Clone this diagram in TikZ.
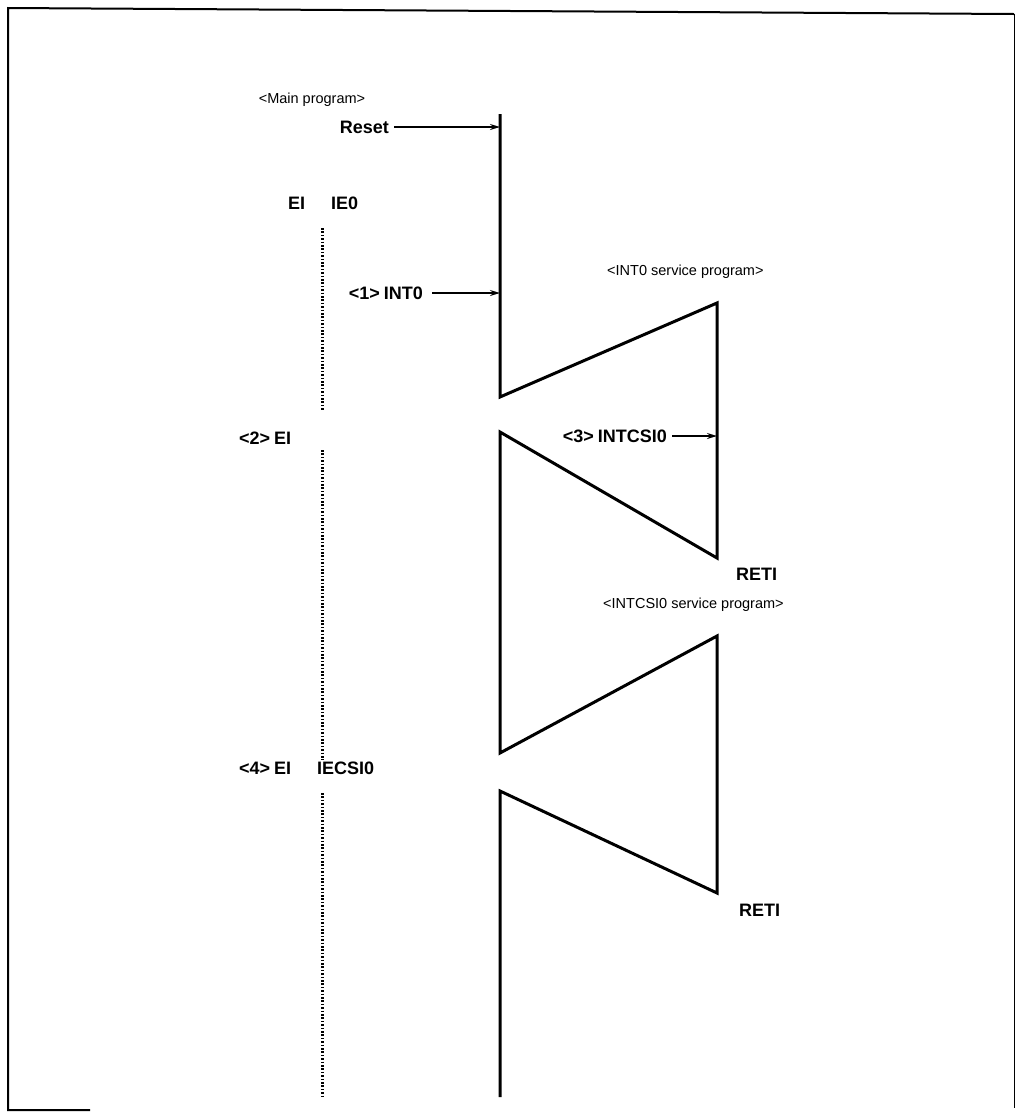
\documentclass[tikz,border=0pt]{standalone}
\usepackage{fontspec}
\setmainfont{Liberation Sans}
\usetikzlibrary{arrows.meta}
\begin{document}
\begin{tikzpicture}[x=1pt,y=-1pt,
  lbl/.style={font=\fontsize{18}{20}\selectfont\bfseries, inner sep=1pt},
  svc/.style={font=\fontsize{14.5}{17}\selectfont, inner sep=1pt},
  prog/.style={line width=3pt, line join=miter},
  dots/.style={line width=3pt, dash pattern=on 1.6pt off 1.8pt},
  arr/.style={line width=1.5pt, -{Stealth[length=10pt,width=6pt]}},
  frame/.style={line width=2pt}]
\useasboundingbox (0,0) rectangle (1016,1112);
\draw[frame] (1014,14) -- (8,8) -- (8,1110) -- (90,1110);
\draw[line width=1pt] (1014,14) -- (1014,1108);
% texts
\node[svc] (mainp) at (312,100) {<Main program>};
\node[lbl, anchor=east] (reset) at (390,127) {Reset};
\node[lbl, anchor=west] (ei1) at (287,203) {EI\hspace{26pt}IE0};
\node[lbl, anchor=east] (int0) at (424,293) {<1>\hspace{4pt}INT0};
\node[svc, anchor=west] (s1) at (606,272) {<INT0 service program>};
\node[lbl, anchor=west] (ei2) at (238,438) {<2>\hspace{4pt}EI};
\node[lbl, anchor=east] (intcsi) at (668,436) {<3>\hspace{4pt}INTCSI0};
\node[lbl, anchor=west] (reti1) at (735,574) {RETI};
\node[svc, anchor=west] (s2) at (602,605) {<INTCSI0 service program>};
\node[lbl, anchor=west] (ei4) at (238,768) {<4>\hspace{4pt}EI\hspace{26pt}IECSI0};
\node[lbl, anchor=west] (reti2) at (738,910) {RETI};
% coordinates
\coordinate (m0) at (500,114);
\coordinate (mr) at (500,127);
\coordinate (mi) at (500,293);
\coordinate (m1) at (500,397);
\coordinate (a1) at (717,303);
\coordinate (a1i) at (717,436);
\coordinate (a1b) at (717,558);
\coordinate (m2) at (500,432);
\coordinate (m3) at (500,753);
\coordinate (b1) at (717,636);
\coordinate (b1b) at (717,893);
\coordinate (m4) at (500,791);
\coordinate (m5) at (500,1097);
% program flow
\draw[prog] (m0) -- (m1) -- (a1) -- (a1b) -- (m2) -- (m3) -- (b1) -- (b1b) -- (m4) -- (m5);
% arrows
\draw[arr] (reset.east) ++(4,0) coordinate (r0) (r0) -- (mr);
\draw[arr] (int0.east) ++(8,0) coordinate (i0) (i0) -- (mi);
\draw[arr] (intcsi.east) ++(4,0) coordinate (c0) (c0) -- (a1i);
% dotted
\coordinate (d1) at (322,228); \coordinate (d2) at (322,410);
\coordinate (d3) at (322,450); \coordinate (d4) at (322,760);
\coordinate (d5) at (322,793); \coordinate (d6) at (322,1096);
\draw[dots] (d1) -- (d2);
\draw[dots] (d3) -- (d4);
\draw[dots] (d5) -- (d6);
\end{tikzpicture}
\end{document}
